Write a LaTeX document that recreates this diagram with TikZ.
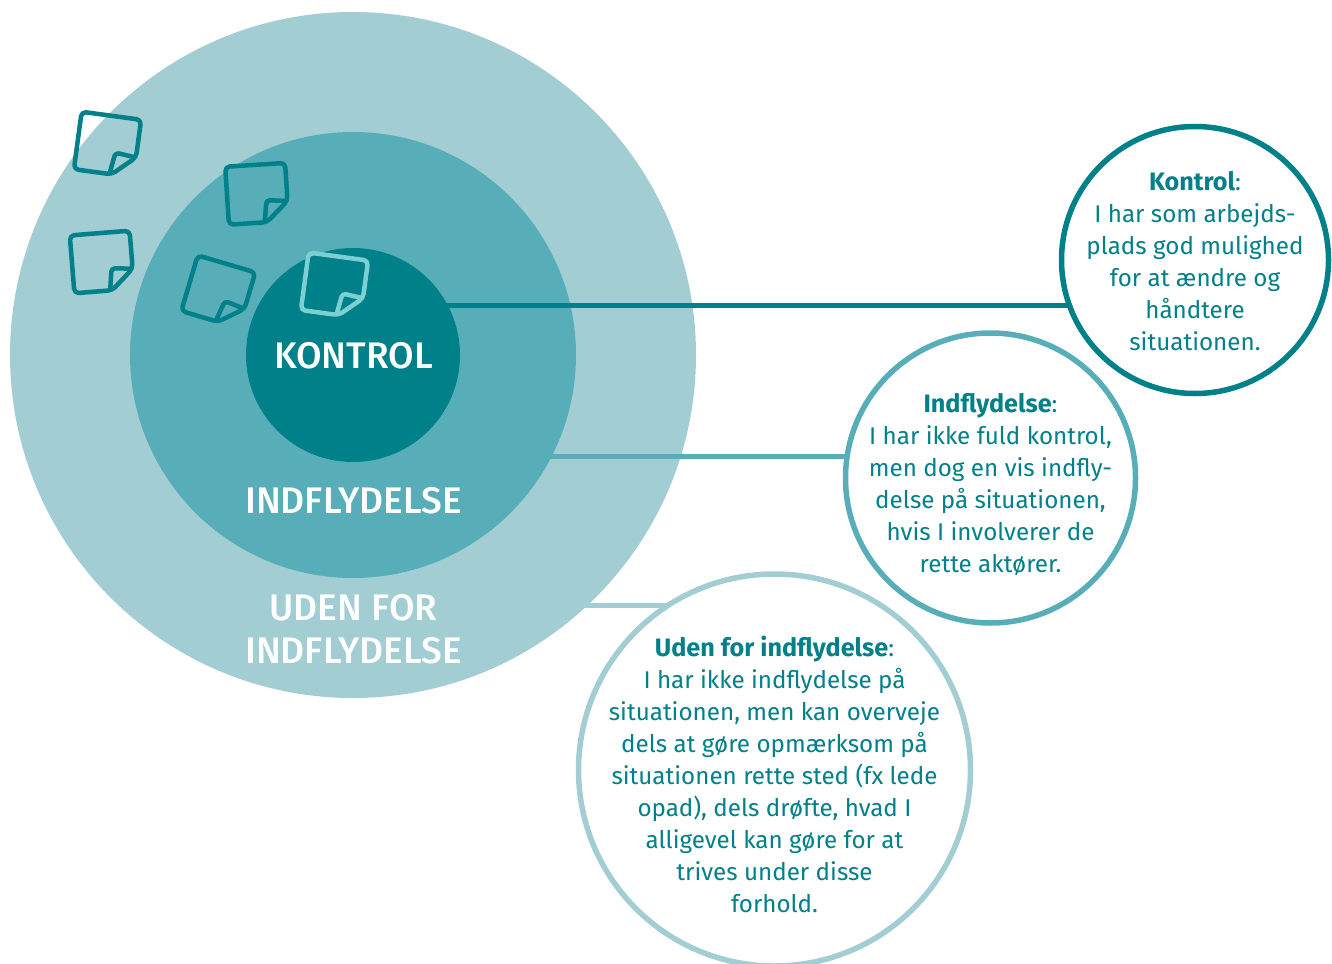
\documentclass[tikz,border=0pt]{standalone}
\usepackage{fontspec}
\setmainfont{Fira Sans}
\newfontfamily\labelfont{Fira Sans Medium}
\definecolor{pale}{HTML}{A2CDD2}
\definecolor{mid}{HTML}{58AEB8}
\definecolor{deep}{HTML}{008089}
\definecolor{notelight}{HTML}{7CCFD3}
\pgfdeclarelayer{discs}
\pgfdeclarelayer{links}
\pgfdeclarelayer{core}
\pgfsetlayers{discs,links,core,main}
\newcommand{\lead}[1]{{\fontsize{25.2}{32}\selectfont\bfseries #1}}
\tikzset{
  disc/.style={circle,inner sep=0pt,outer sep=0pt},
  callout/.style={circle,inner sep=0pt,outer sep=0pt,fill=white,line width=5.5pt},
  link/.style={line width=5pt},
  bodytext/.style={align=center,text=deep,inner sep=0pt,font=\fontsize{24.2}{32}\selectfont},
  disclabel/.style={align=center,text=white,inner sep=0pt,font=\fontsize{37}{43}\labelfont},
  stickynote/.pic={
    \draw[line width=4.5pt,rounded corners=4.5pt,line join=round]
      (-30,-29) -- (30,-29) -- (30,9) -- (8,29) -- (-30,29) -- cycle;
    \draw[line width=4.5pt,rounded corners=3.5pt,line join=round]
      (29,9) -- (9,7) -- (6,28);
  }
}
\begin{document}
\begin{tikzpicture}[x=1pt,y=-1pt]
\useasboundingbox (0,0) rectangle (1332,963);
\clip (0,0) rectangle (1332,963);
\coordinate (ky) at (0,305);
\coordinate (iy) at (0,456);
\coordinate (uy) at (0,605.5);
\begin{pgfonlayer}{discs}
\node[disc,fill=pale,minimum size=686pt] (outer) at (353,355) {};
\node[disc,fill=mid,minimum size=446pt] (middle) at (353,355) {};
\end{pgfonlayer}
\begin{pgfonlayer}{core}
\node[disc,fill=deep,minimum size=214pt] (inner) at (353,355) {};
\node[callout,draw=deep,minimum size=267pt] (kbox) at (1195,260) {};
\node[callout,draw=mid,minimum size=290pt] (ibox) at (990.5,478) {};
\node[callout,draw=pale,minimum size=392pt] (ubox) at (774.5,770) {};
\end{pgfonlayer}
\begin{pgfonlayer}{links}
\draw[link,pale] (outer.center |- uy) -- (ubox.center |- uy);
\draw[link,mid] (middle.center |- iy) -- (ibox.center |- iy);
\draw[link,deep] (inner.center |- ky) -- (kbox.center |- ky);
\end{pgfonlayer}
\pic[rotate=-7.7,color=deep] at (107.5,144.5) {stickynote};
\pic[rotate=3.7,color=deep] at (257,193.8) {stickynote};
\pic[rotate=4.6,color=deep] at (102,262) {stickynote};
\pic[rotate=-16.5,color=deep] at (218.3,291.7) {stickynote};
\pic[rotate=-7.7,color=notelight] at (334.5,285.3) {stickynote};
\node[disclabel] (lk) at (353.5,356) {KONTROL};
\node[disclabel] (li) at (353.5,501) {INDFLYDELSE};
\node[disclabel] (lu) at (353.5,629.5) {UDEN FOR\\INDFLYDELSE};
\node[bodytext] (tk) at (1195,261) {\lead{Kontrol}:\\I har som arbejds-\\plads god mulighed\\for at ændre og\\håndtere\\situationen.};
\node[bodytext] (ti) at (990.5,484.5) {\lead{Indflydelse}:\\I har ikke fuld kontrol,\\men dog en vis indfly-\\delse på situationen,\\hvis I involverer de\\rette aktører.};
\node[bodytext] (tu) at (774.5,774) {\lead{Uden for indflydelse}:\\I har ikke indflydelse på\\situationen, men kan overveje\\dels at gøre opmærksom på\\situationen rette sted (fx lede\\opad), dels drøfte, hvad I\\alligevel kan gøre for at\\trives under disse\\forhold.};
\end{tikzpicture}
\end{document}
